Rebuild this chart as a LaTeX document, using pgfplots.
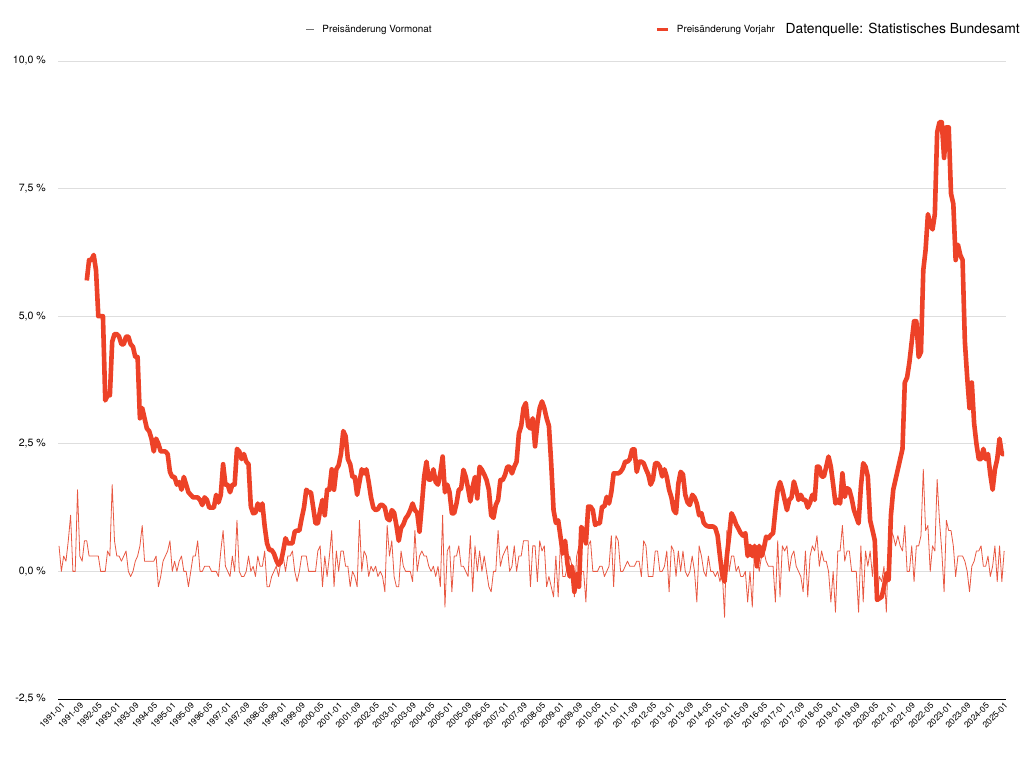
\documentclass[border=0pt]{standalone}
\usepackage{fontspec}
\setmainfont{TeX Gyre Heros}
\usepackage{pgfplots}
\pgfplotsset{compat=1.18}
\usepackage{pgfplotstable}
\definecolor{yoy}{RGB}{237,66,40}
\definecolor{mom}{RGB}{232,88,66}
\definecolor{gridc}{RGB}{222,222,222}

% Preisaenderung gegenueber Vormonat, 1991-01 ... 2025-02
\pgfplotstableread{
v
0.5
0.0
0.3
0.2
0.6
1.1
0.0
0.0
1.6
0.3
0.2
0.6
0.6
0.3
0.3
0.3
0.3
0.3
0.0
0.0
0.0
0.4
0.3
1.7
0.6
0.3
0.3
0.2
0.3
0.4
0.0
-0.1
0.0
0.2
0.3
0.5
0.9
0.2
0.2
0.2
0.2
0.2
0.3
-0.3
-0.1
0.2
0.3
0.4
0.6
0.0
0.2
0.0
0.2
0.3
0.0
0.0
-0.3
0.0
0.3
0.3
0.6
0.0
0.0
0.1
0.1
0.1
0.0
0.0
0.0
-0.1
0.4
0.8
0.1
0.0
-0.1
0.3
0.0
1.0
0.0
-0.1
-0.1
0.0
0.3
0.0
0.1
-0.1
0.3
0.1
0.1
0.4
-0.3
-0.3
-0.1
0.0
0.1
-0.1
0.2
0.3
0.0
0.3
0.3
0.4
0.0
-0.2
0.0
0.3
0.3
0.3
0.0
0.0
0.0
0.0
0.4
0.5
-0.3
0.3
-0.1
0.3
0.8
-0.3
0.4
0.0
0.4
0.4
0.1
0.1
-0.3
0.0
-0.1
-0.3
1.0
0.0
0.4
0.3
-0.1
0.1
0.0
0.1
-0.1
0.0
-0.1
-0.4
0.9
0.3
0.6
-0.1
-0.3
-0.3
0.4
0.1
0.0
0.0
0.0
-0.2
0.8
0.0
0.3
0.4
0.3
0.3
0.1
0.0
0.1
-0.1
0.1
-0.3
1.1
-0.7
0.4
0.5
-0.4
0.3
0.3
0.5
0.1
0.1
0.0
-0.1
0.7
-0.4
0.5
0.0
0.4
0.0
0.3
0.0
-0.3
-0.4
0.0
0.0
0.8
0.1
0.3
0.4
0.5
0.0
0.1
0.5
0.0
0.3
0.3
0.6
0.6
0.6
-0.3
0.5
0.5
-0.2
0.6
0.4
0.5
-0.3
-0.1
-0.3
-0.5
0.3
-0.5
0.6
-0.1
-0.1
0.1
0.3
0.1
-0.5
0.3
0.5
0.0
0.0
-0.6
0.5
0.6
0.0
0.0
0.0
0.1
0.1
-0.1
0.0
0.1
0.7
-0.3
0.7
0.6
0.0
0.0
0.1
0.2
0.1
0.1
0.1
0.2
0.2
-0.1
0.6
0.5
-0.1
-0.1
-0.1
0.4
0.4
0.0
0.0
0.1
0.4
-0.4
0.5
0.4
-0.1
0.4
0.0
0.4
0.0
-0.1
0.0
0.3
0.0
-0.6
0.5
0.3
0.0
-0.1
0.3
0.0
0.0
-0.1
0.0
-0.2
0.0
-0.9
0.8
0.0
0.3
0.3
0.0
0.1
-0.1
-0.1
0.0
-0.6
0.0
-0.7
0.5
0.3
0.0
0.3
0.4
0.2
0.1
0.1
0.1
-0.6
0.6
-0.5
0.5
0.4
0.5
0.0
0.3
0.4
0.1
0.0
-0.1
-0.4
0.4
-0.5
0.3
0.5
0.4
0.7
0.1
0.4
0.2
0.2
0.0
-0.6
0.0
-0.8
0.4
0.4
0.9
0.2
0.4
0.4
0.0
0.0
0.0
-0.8
0.5
-0.6
0.4
0.1
0.4
-0.1
0.6
-0.5
-0.1
-0.2
0.1
-0.8
0.5
0.8
0.7
0.5
0.7
0.5
0.4
0.9
0.0
0.0
0.5
-0.2
0.5
0.5
0.7
2.0
0.8
0.9
0.0
0.5
0.4
1.8
1.0
0.4
-0.4
1.0
0.8
0.8
0.5
-0.1
0.3
0.3
0.3
0.2
0.0
-0.4
0.1
0.2
0.4
0.4
0.5
0.1
0.1
0.3
-0.1
0.1
0.5
-0.2
0.5
-0.2
0.4
}\momtable

% Preisaenderung gegenueber Vorjahresmonat, 1992-01 ... 2025-02
\pgfplotstableread{
v
5.7
6.1
6.1
6.2
5.9
5.0
5.0
5.0
3.35
3.45
3.45
4.5
4.65
4.65
4.6
4.45
4.45
4.6
4.6
4.45
4.4
4.2
4.2
3.0
3.2
3.0
2.8
2.75
2.6
2.35
2.6
2.5
2.35
2.35
2.35
2.3
1.95
1.85
1.85
1.7
1.75
1.6
1.85
1.7
1.55
1.5
1.45
1.45
1.45
1.4
1.3
1.45
1.4
1.25
1.25
1.25
1.5
1.35
1.5
2.1
1.7
1.7
1.55
1.7
1.7
2.4
2.35
2.2
2.3
2.15
2.1
1.27
1.14
1.15
1.33
1.2
1.33
0.88
0.55
0.42
0.42
0.35
0.22
0.13
0.18
0.4
0.65
0.55
0.55
0.55
0.78
0.8
0.8
1.04
1.25
1.6
1.55
1.55
1.25
0.94
0.94
1.2
1.4
1.1
1.6
1.6
2.0
1.6
2.0
2.08
2.3
2.75
2.65
2.2
2.1
1.85
1.85
1.5
1.75
2.0
1.92
2.0
1.75
1.45
1.25
1.2
1.22
1.3
1.3
1.25
1.04
1.0
1.2
1.15
0.9
0.6
0.85
0.92
1.04
1.1
1.2
1.33
1.2
1.15
0.78
1.3
1.85
2.15
1.8
1.8
2.0
1.75
1.7
1.92
2.25
1.55
1.7
1.55
1.14
1.14
1.33
1.6
1.62
1.99
1.85
1.63
1.37
1.66
1.85
1.43
2.05
1.99
1.9
1.79
1.6
1.1
1.05
1.3
1.4
1.79
1.79
1.89
2.05
2.05
1.92
2.05
2.15
2.7
2.85
3.2
3.3
2.85
2.8
3.0
2.45
2.9
3.2
3.33
3.2
3.0
2.85
2.1
1.2
0.95
1.0
0.68
0.35
0.6
0.15
-0.1
0.1
-0.4
-0.05
-0.3
0.87
0.8
0.55
1.27
1.27
1.2
0.91
0.94
0.94
1.27
1.27
1.46
1.33
1.55
1.92
1.92
1.92
1.95
2.02
2.15
2.15
2.2
2.39
2.39
1.95
2.15
2.15
2.12
2.0
1.9
1.7
1.8
2.12
2.12
2.05
1.86
2.0
1.85
1.6
1.45
1.2
1.14
1.72
1.95
1.9
1.5
1.35
1.3
1.5
1.45
1.33
1.1
1.14
0.95
0.9
0.88
0.88
0.88
0.85
0.7
0.3
-0.07
-0.2
0.3
0.7
1.14
1.05
0.92
0.84
0.75
0.7
0.75
0.3
0.5
0.3
0.5
0.1
0.5
0.3
0.45
0.68
0.65
0.71
0.75
1.2
1.6
1.75
1.6
1.4
1.2
1.4
1.45
1.76
1.6
1.4
1.5
1.4
1.4
1.25
1.35
1.5
1.4
2.05
2.05
1.86
1.86
2.05
2.25
2.05
1.7
1.33
1.4
1.33
1.92
1.46
1.63
1.6
1.43
1.2
1.07
0.94
1.66
2.12
2.05
1.86
1.0
0.81
0.61
-0.56
-0.53
-0.5
-0.3
-0.04
-0.17
1.1
1.6
1.8
2.0
2.2
2.4
3.7
3.8
4.1
4.5
4.9
4.9
4.2
4.3
5.9
6.3
7.0
6.8
6.7
7.0
8.6
8.8
8.8
8.1
8.7
8.7
7.4
7.2
6.1
6.4
6.2
6.1
4.5
3.8
3.2
3.7
2.9
2.5
2.2
2.2
2.4
2.2
2.3
1.9
1.6
2.0
2.2
2.6
2.3
2.3
}\yoytable

\begin{document}
\begin{tikzpicture}[x=1bp,y=1bp]
\useasboundingbox (0,0) rectangle (1024,768);
\begin{axis}[
  at={(58bp,69bp)}, anchor=south west,
  scale only axis, width=948bp, height=638bp,
  xmin=-0.45, xmax=409.8,
  ymin=-2.5, ymax=10,
  axis x line*=bottom, axis y line*=left,
  y axis line style={draw=none},
  x axis line style={black, line width=0.9bp},
  major tick length=0pt,
  ymajorgrids,
  grid style={gridc, line width=0.8bp},
  ytick={-2.5,0,2.5,5,7.5,10},
  yticklabels={{-2,5 \%},{0,0 \%},{2,5 \%},{5,0 \%},{7,5 \%},{10,0 \%}},
  y tick label style={anchor=east, inner sep=0pt, xshift=-12bp, font=\fontsize{10.6}{12}\selectfont},
  xtick={0,8,...,408},
  xticklabels={1991-01,1991-09,1992-05,1993-01,1993-09,1994-05,1995-01,1995-09,1996-05,1997-01,1997-09,1998-05,1999-01,1999-09,2000-05,2001-01,2001-09,2002-05,2003-01,2003-09,2004-05,2005-01,2005-09,2006-05,2007-01,2007-09,2008-05,2009-01,2009-09,2010-05,2011-01,2011-09,2012-05,2013-01,2013-09,2014-05,2015-01,2015-09,2016-05,2017-01,2017-09,2018-05,2019-01,2019-09,2020-05,2021-01,2021-09,2022-05,2023-01,2023-09,2024-05,2025-01},
  x tick label style={rotate=45, anchor=north east, inner sep=0.5bp, yshift=-3bp, font=\fontsize{8.6}{10}\selectfont},
  legend columns=2,
  legend cell align=left,
  legend style={at={(axis description cs:0.2616,1.0486)}, anchor=west,
    draw=none, fill=none, inner sep=0pt, outer sep=0pt,
    font=\fontsize{9.9}{11}\selectfont,
    nodes={inner sep=0pt},
    /tikz/every odd column/.append style={column sep=7.5bp},
    /tikz/every even column/.append style={column sep=224bp}},
]
\addplot[mom, line width=0.8bp, line join=round,
  legend image code/.code={\draw[black!55, line width=1bp] (0bp,0bp) -- (8bp,0bp);}]
  table[x expr=\coordindex, y=v] {\momtable};
\addlegendentry{Preisänderung Vormonat}
\addplot[yoy, line width=4.6bp, line join=round,
  legend image code/.code={\draw[yoy, line width=3bp] (0bp,0bp) -- (11bp,0bp);}]
  table[x expr=\coordindex+12, y=v] {\yoytable};
\addlegendentry{Preisänderung Vorjahr}
\end{axis}
\node[anchor=east, inner sep=0pt, font=\fontsize{13.9}{16}\selectfont] at (1020bp,738bp) {Datenquelle: Statistisches Bundesamt};
\end{tikzpicture}
\end{document}
